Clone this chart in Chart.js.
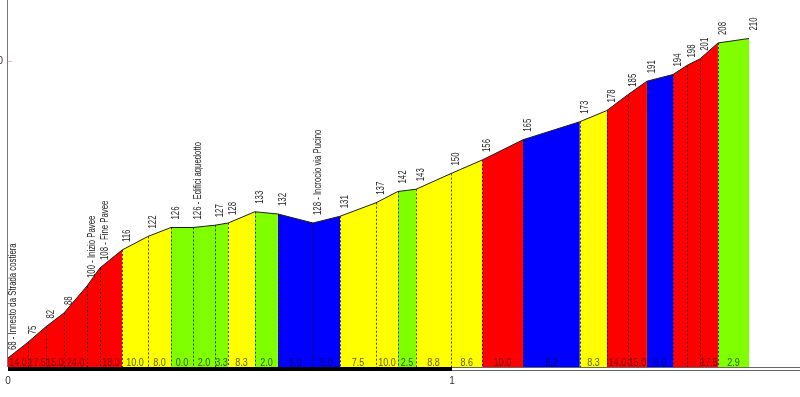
<!DOCTYPE html>
<html>
<head>
<meta charset="utf-8">
<script src="https://cdn.jsdelivr.net/npm/chart.js@4.4.0/dist/chart.umd.min.js"></script>
<style>
html, body { margin: 0; padding: 0; background: #fff; }
</style>
</head>
<body>
<canvas id="profileChart" width="800" height="397"></canvas>
<script>
// distanza progressiva (km) di ogni punto
var distances = [0, 0.045, 0.086, 0.126, 0.178, 0.207, 0.257, 0.315, 0.367, 0.417,
                 0.466, 0.496, 0.556, 0.608, 0.687, 0.748, 0.829, 0.878, 0.919, 0.998,
                 1.068, 1.160, 1.288, 1.349, 1.396, 1.439, 1.498, 1.529, 1.559, 1.599, 1.669];
// quota (m)
var elevations = [68, 75, 82, 88, 100, 108, 116, 122, 126, 126,
                  127, 128, 133, 132, 128, 131, 137, 142, 143, 150,
                  156, 165, 173, 178, 185, 191, 194, 198, 201, 208, 210];
// nomi dei punti notevoli
var pointNames = ['Innesto da Strada costiera', '', '', '', 'Inizio Pavee', 'Fine Pavee', '', '', '', 'Edifici aquedotto',
                  '', '', '', '', 'Incrocio via Pucino', '', '', '', '', '',
                  '', '', '', '', '', '', '', '', '', '', ''];
// pendenza di ogni tratto (%)
var gradients = [14.0, 17.5, 15.0, 24.0, null, 18.0, 10.0, 8.0, 0.0, 2.0,
                 3.3, 8.3, 2.0, 5.0, 5.0, 7.5, 10.0, 2.5, 8.8, 8.6,
                 10.0, 8.2, 8.3, 14.0, 15.0, 6.0, null, null, 17.5, 2.9];
// fascia di ogni tratto (0 = verde, 1 = giallo, 2 = rosso, 3 = blu)
var segBand = [2, 2, 2, 2, 2, 2, 1, 1, 0, 0,
               0, 1, 0, 3, 3, 1, 1, 0, 1, 1,
               2, 3, 1, 2, 2, 3, 2, 2, 2, 0];
var kmTicks = [0, 1];
var altTicks = [200];

var bandColors = ['#80ff00', '#ffff00', '#ff0000', '#0000ff'];
var bandText = ['#2f5c00', '#5c5c00', '#7a0000', '#00007a'];
var baseFont = '"Liberation Sans", Arial, sans-serif';

// testo compresso in orizzontale (carattere "narrow")
function narrowText(ctx, txt, x, y, angle, squeeze) {
    ctx.save();
    ctx.translate(x, y);
    ctx.rotate(angle);
    ctx.scale(squeeze, 1);
    ctx.fillText(txt, 0, 0);
    ctx.restore();
}

var profilePlugin = {
    id: 'profile',
    afterDatasetsDraw: function (chart) {
        var ctx = chart.ctx;
        var xs = chart.scales.x;
        var ys = chart.scales.y;
        var area = chart.chartArea;
        var bottom = area.bottom;
        ctx.save();

        // linee tratteggiate sui punti intermedi
        ctx.setLineDash([2, 2]);
        ctx.lineWidth = 1;
        ctx.strokeStyle = 'rgba(20,20,20,0.8)';
        for (var i = 1; i < distances.length - 1; i++) {
            var px = Math.round(xs.getPixelForValue(distances[i])) + 0.5;
            var py = ys.getPixelForValue(elevations[i]);
            ctx.beginPath();
            ctx.moveTo(px, py);
            ctx.lineTo(px, bottom);
            ctx.stroke();
        }
        ctx.setLineDash([]);

        // pendenze
        ctx.font = '11px ' + baseFont;
        ctx.textAlign = 'center';
        ctx.textBaseline = 'middle';
        for (var s = 0; s < gradients.length; s++) {
            if (gradients[s] === null) continue;
            var mid = (xs.getPixelForValue(distances[s]) + xs.getPixelForValue(distances[s + 1])) / 2;
            ctx.fillStyle = bandText[segBand[s]];
            narrowText(ctx, gradients[s].toFixed(1), mid, bottom - 4, 0, 0.82);
        }

        // quote ed etichette ruotate
        ctx.font = '10px ' + baseFont;
        ctx.fillStyle = '#222';
        ctx.textAlign = 'left';
        for (var j = 0; j < distances.length; j++) {
            var lx = xs.getPixelForValue(distances[j]) + 5;
            var ly = ys.getPixelForValue(elevations[j]) - 8;
            var txt = String(elevations[j]);
            if (pointNames[j]) txt += ' - ' + pointNames[j];
            narrowText(ctx, txt, lx, ly, -Math.PI / 2, 0.78);
        }

        // asse verticale
        ctx.strokeStyle = '#777';
        ctx.beginPath();
        ctx.moveTo(area.left - 0.5, 0);
        ctx.lineTo(area.left - 0.5, bottom);
        ctx.stroke();
        ctx.font = '10px ' + baseFont;
        ctx.fillStyle = '#333';
        ctx.textAlign = 'right';
        altTicks.forEach(function (v) {
            var ty = ys.getPixelForValue(v);
            ctx.fillText(String(v), 3, ty);
            ctx.strokeStyle = '#f0b0c0';
            ctx.beginPath();
            ctx.moveTo(area.left, ty + 0.5);
            ctx.lineTo(area.left + 4, ty + 0.5);
            ctx.stroke();
        });

        // barra chilometrica
        var x0 = xs.getPixelForValue(kmTicks[0]);
        var x1 = xs.getPixelForValue(kmTicks[1]);
        ctx.fillStyle = '#000';
        ctx.fillRect(x0, bottom, x1 - x0, 4);
        ctx.strokeStyle = '#666';
        ctx.beginPath();
        ctx.moveTo(x1, bottom + 0.5);
        ctx.lineTo(area.right, bottom + 0.5);
        ctx.moveTo(x1, bottom + 3.5);
        ctx.lineTo(area.right, bottom + 3.5);
        ctx.stroke();

        ctx.fillStyle = '#333';
        ctx.textAlign = 'center';
        kmTicks.forEach(function (k) {
            ctx.fillText(String(k), xs.getPixelForValue(k), bottom + 14);
        });
        ctx.restore();
    }
};

var profileChart = new Chart(document.getElementById('profileChart').getContext('2d'), {
    type: 'line',
    data: {
        datasets: [{
            data: distances.map(function (d, i) { return { x: d, y: elevations[i] }; }),
            fill: 'start',
            backgroundColor: bandColors[2],
            borderColor: '#1e1e1e',
            borderWidth: 1,
            pointRadius: 0,
            tension: 0,
            segment: {
                backgroundColor: function (c) { return bandColors[segBand[c.p0DataIndex]]; }
            }
        }]
    },
    options: {
        responsive: false,
        animation: false,
        layout: { padding: { left: 8, right: 0, top: 0, bottom: 30 } },
        scales: {
            x: { type: 'linear', min: 0, max: 1.7838, display: false },
            y: { min: 64, max: 227.1, display: false }
        },
        plugins: {
            legend: { display: false },
            tooltip: { enabled: false }
        }
    },
    plugins: [profilePlugin]
});
</script>
</body>
</html>
